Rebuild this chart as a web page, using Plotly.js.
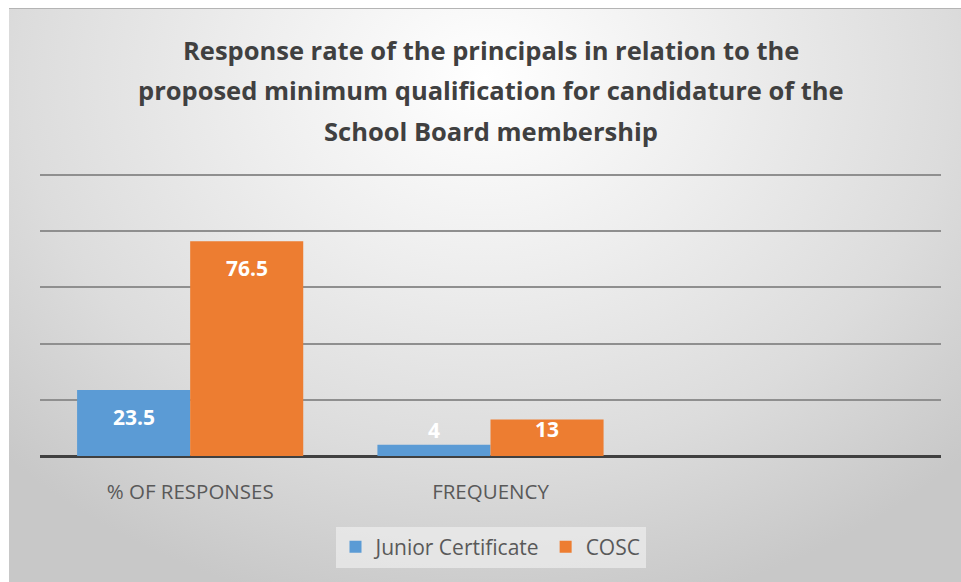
<!DOCTYPE html>
<html>
<head>
<meta charset="utf-8">
<script src="https://cdn.plot.ly/plotly-3.0.1.min.js"></script>
<style>
  html, body { margin: 0; padding: 0; background: #ffffff; }
  #bg {
    position: absolute; left: 9px; top: 8px; width: 952px; height: 574px;
    border-top: 1px solid #b4b4b4;
    background: radial-gradient(ellipse 70% 95% at 50% 12%, #ffffff 0%, #eeeeee 35%, #dcdcdc 70%, #c8c8c8 100%);
  }
  #chart { position: absolute; left: 0; top: 0; width: 961px; height: 582px; }
</style>
</head>
<body>
<div id="bg"></div>
<div id="chart"></div>
<script>
// ---- data ----
var categories = ["% OF RESPONSES", "FREQUENCY"];
var seriesNames = ["Junior Certificate", "COSC"];
var juniorCertificate = [23.5, 4];
var cosc = [76.5, 13];
var titleLines = [
  "Response rate of the principals in relation to the",
  "proposed minimum qualification for candidature of the",
  "School Board membership"
];

// ---- styles ----
var colors = ["#5B9BD5", "#ED7D31"];
var labelYShift = [[-27, 15], [-27, -10]];   // per series, per category (px)
var groupHalfPx = 56.5;
var W = 961, H = 582, mT = 174, mB = 126;
var plotH = H - mT - mB;

var font = "Open Sans, Noto Sans, sans-serif";
var seriesValues = [juniorCertificate, cosc];

var traces = seriesValues.map(function (vals, s) {
  return {
    type: "bar",
    name: seriesNames[s],
    x: categories,
    y: vals,
    marker: { color: colors[s] },
    hoverinfo: "none"
  };
});

var annotations = [];
seriesValues.forEach(function (vals, s) {
  vals.forEach(function (v, i) {
    annotations.push({
      xref: "x", yref: "y", x: categories[i], y: v,
      text: "<b>" + String(v) + "</b>", showarrow: false,
      xshift: (s === 0 ? -1 : 1) * groupHalfPx,
      yshift: labelYShift[s][i],
      yanchor: "middle",
      font: { family: font, size: 21, color: "#ffffff" }
    });
  });
});
var titleY = [50, 90, 131];
titleLines.forEach(function (t, k) {
  annotations.push({
    xref: "paper", yref: "paper", x: 0.5, y: (H - mB - titleY[k]) / plotH,
    text: "<b>" + t + "</b>", showarrow: false, xanchor: "center", yanchor: "middle",
    font: { family: font, size: 25.5, color: "#404040" }
  });
});

var layout = {
  width: W, height: H,
  paper_bgcolor: "rgba(0,0,0,0)",
  plot_bgcolor: "rgba(0,0,0,0)",
  margin: { l: 40, r: 20, t: mT, b: mB },
  barmode: "group",
  bargap: 0.247,
  bargroupgap: 0,
  showlegend: true,
  legend: {
    orientation: "h", x: 0.5, xanchor: "center", y: -91 / plotH, yanchor: "middle",
    bgcolor: "rgba(238,238,238,0.7)",
    font: { family: font, size: 21, color: "#595959" },
    itemclick: false, itemdoubleclick: false
  },
  xaxis: {
    type: "category",
    range: [-0.5, 2.5],
    showgrid: false,
    showline: false,
    zeroline: false,
    ticks: "outside", ticklen: 17, tickcolor: "rgba(0,0,0,0)",
    tickfont: { family: font, size: 20.5, color: "#595959" },
    fixedrange: true
  },
  yaxis: {
    range: [0, 100.4],
    dtick: 20,
    showticklabels: false,
    showgrid: true,
    gridcolor: "#8f8f8f",
    gridwidth: 2,
    zeroline: true,
    zerolinecolor: "#404040",
    zerolinewidth: 3,
    fixedrange: true
  },
  annotations: annotations
};

Plotly.newPlot("chart", traces, layout, { displayModeBar: false, staticPlot: true });
</script>
</body>
</html>
